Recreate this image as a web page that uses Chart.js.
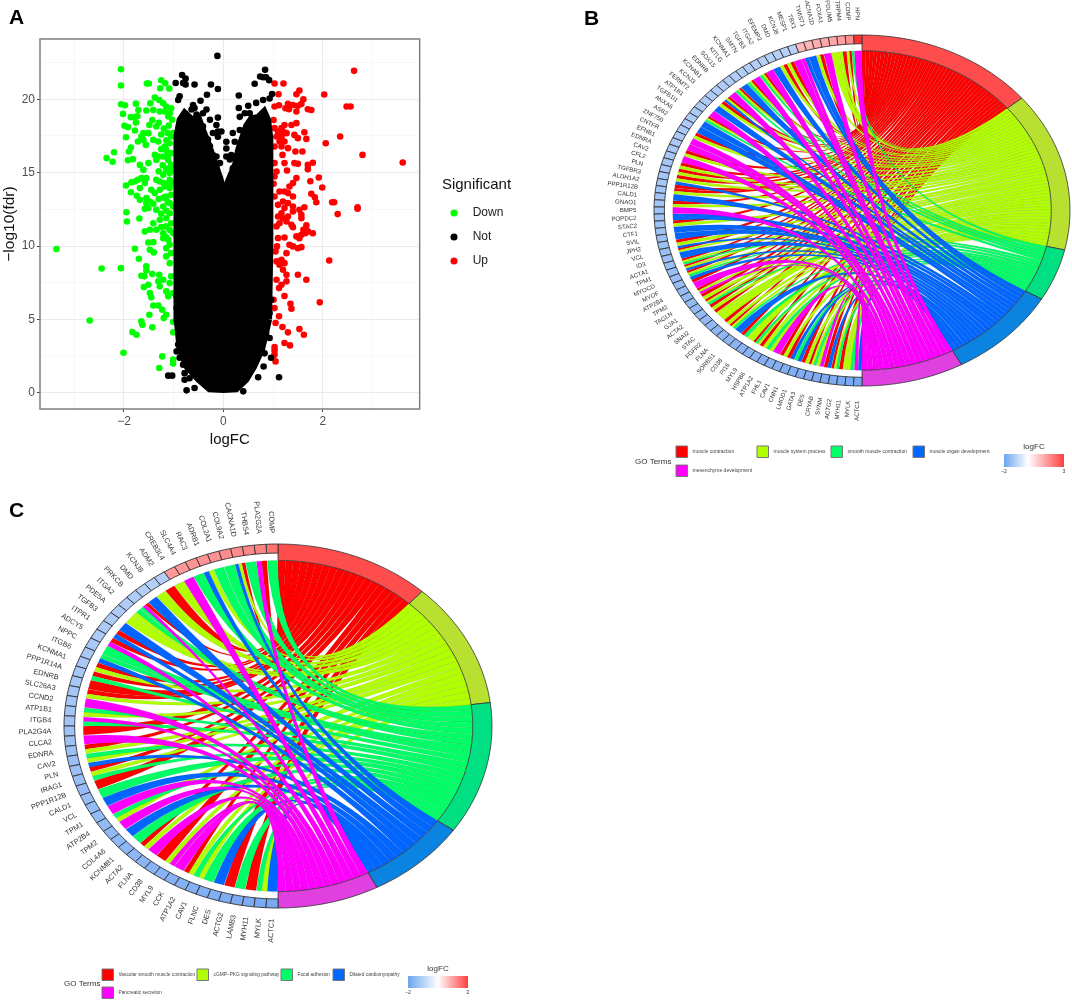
<!DOCTYPE html>
<html>
<head>
<meta charset="utf-8">
<title>Volcano plot and GO chord diagrams</title>
<script src="https://cdn.jsdelivr.net/npm/chart.js@4/dist/chart.umd.js"></script>
<style>
  html, body { margin: 0; padding: 0; background: #fff; overflow: hidden; }
  #page { position: relative; width: 1072px; height: 1002px; }
  canvas { position: absolute; }
  .panel { position: absolute; font: bold 21px "Liberation Sans", Arial, sans-serif; color: #000; }
</style>
</head>
<body>
<div id="page">
  <canvas id="volcano" width="540" height="450" style="left:0;top:0"></canvas>
  <canvas id="chordB" width="532" height="490" style="left:540px;top:0"></canvas>
  <canvas id="chordC" width="540" height="512" style="left:0;top:490px"></canvas>
  <div class="panel" style="left:9px;top:5px">A</div>
  <div class="panel" style="left:584px;top:6px">B</div>
  <div class="panel" style="left:9px;top:498px">C</div>
</div>
<script>
// volcano values as [logFC, -log10(fdr)]
const downPoints = [[-2.06,22.04],[-2.06,20.93],[-1.54,21.07],[-1.5,21.07],[-1.25,21.29],[-1.17,21.09],[-1.27,20.75],[-1.09,20.73],[-1.38,20.11],[-1.29,19.95],[-1.21,19.73],[-1.15,19.5],[-1.47,19.73],[-1.55,19.23],[-1.41,19.27],[-1.28,19.16],[-1.18,19.16],[-1.08,19.05],[-1.05,19.39],[-1.11,18.82],[-2.06,19.66],[-1.98,19.59],[-2.02,19],[-1.76,19.7],[-1.71,19.27],[-1.86,18.78],[-1.78,18.78],[-1.73,18.84],[-1.76,18.41],[-1.99,18.19],[-1.92,18.1],[-1.78,17.87],[-1.49,18.25],[-1.43,18.59],[-1.35,18.14],[-1.51,17.69],[-1.96,17.41],[-1.61,17.69],[-1.61,17.23],[-1.65,17.46],[-1.72,17.12],[-1.56,16.89],[-1.41,17.23],[-1.31,17.12],[-1.18,16.78],[-1.08,17],[-1.05,17.46],[-1.01,17.69],[-1.86,16.71],[-1.9,16.44],[-1.92,15.85],[-1.82,15.92],[-2.2,16.39],[-2.35,15.99],[-2.23,15.74],[-1.68,15.53],[-1.61,15.19],[-1.51,15.65],[-1.38,16.21],[-1.35,15.87],[-1.21,16.1],[-1.15,16.55],[-1.11,15.87],[-1.05,16.33],[-1.05,15.53],[-1.96,14.13],[-1.85,14.35],[-1.78,14.4],[-1.72,14.51],[-1.65,14.63],[-1.55,14.63],[-1.68,13.95],[-1.58,14.29],[-1.86,13.67],[-1.74,13.42],[-1.68,13.15],[-1.55,13.27],[-1.35,14.51],[-1.28,14.4],[-1.21,14.85],[-1.15,15.19],[-1.08,14.97],[-1.01,15.19],[-1.08,14.51],[-1.28,13.83],[-1.45,13.83],[-1.38,13.61],[-1.18,14.06],[-1.08,13.95],[-1.01,14.29],[-1.15,13.38],[-1.05,13.49],[-1.55,12.93],[-1.48,13.04],[-1.41,12.88],[-1.58,12.54],[-1.51,12.59],[-1.35,12.47],[-1.21,12.7],[-1.08,12.93],[-1.01,12.7],[-1.08,12.24],[-1.95,12.31],[-1.94,11.68],[-1.69,11.88],[-1.41,11.56],[-1.28,11.79],[-1.15,11.34],[-1.05,11.56],[-1.58,11],[-1.48,11.11],[-1.35,11.11],[-1.21,10.88],[-1.11,10.43],[-1.01,10.88],[-1.51,10.25],[-1.41,10.27],[-1.21,10.54],[-1.78,9.82],[-3.36,9.8],[-1.48,9.75],[-1.4,9.57],[-1.15,9.86],[-1.15,9.3],[-1.05,9.52],[-1.7,9.14],[-2.45,8.48],[-2.06,8.5],[-1.55,8.62],[-1.55,8.34],[-1.65,7.98],[-1.59,7.94],[-1.43,8.1],[-1.29,8.05],[-1.08,8.84],[-1.05,7.94],[-1.08,7.48],[-1.31,7.6],[-1.21,7.71],[-1.28,7.26],[-1.51,7.37],[-1.6,7.21],[-1.48,6.8],[-1.45,6.51],[-1.15,6.92],[-1.01,6.8],[-1.11,6.58],[-1.41,5.96],[-1.31,5.96],[-1.23,5.67],[-1.15,5.33],[-1.49,5.33],[-1.2,5.1],[-1.01,4.83],[-2.69,4.94],[-1.65,4.88],[-1.63,4.65],[-1.43,4.47],[-1.83,4.15],[-1.75,3.97],[-1.01,4.13],[-2.01,2.74],[-1.23,2.49],[-1.01,2.27],[-1.01,2],[-1.29,1.7],[-1.1,18.2],[-1.03,18.6],[-1.2,18],[-1.12,17.7],[-1.3,18.4],[-1.25,17.6],[-1.15,17.2],[-1.25,16.6],[-1.3,16.1],[-1.12,16.2],[-1.22,15.5],[-1.3,15.1],[-1.1,15.3],[-1.2,14.3],[-1.12,14.2],[-1.3,13.2],[-1.2,13.3],[-1.12,13],[-1.25,12.2],[-1.15,12.4],[-1.15,11.9],[-1.25,11.3],[-1.08,11.1],[-1.15,10.6],[-1.08,10.1]];
const upPoints = [[2.63,21.93],[1.03,21.07],[1.21,21.07],[1.11,20.34],[1.53,20.59],[1.47,20.34],[2.03,20.32],[1.61,20],[2.48,19.5],[2.56,19.5],[1.03,19.5],[1.12,19.59],[1.3,19.68],[1.4,19.61],[1.5,19.55],[1.57,19.68],[1.25,19.39],[1.32,19.32],[1.47,19.16],[1.7,19.32],[1.77,19.27],[1.01,18.59],[1.37,18.25],[1.47,18.37],[1.23,18.25],[1.17,18.03],[1.03,18.03],[1.1,17.8],[1.2,17.8],[1.27,17.69],[1.17,17.46],[1.07,17.46],[1.43,17.57],[1.5,17.35],[1.63,17.75],[1.67,17.3],[2.35,17.46],[2.06,17],[1.13,17.12],[1.23,17.12],[1.03,16.78],[1.17,16.78],[1.3,16.67],[1.45,16.44],[1.59,16.44],[2.8,16.21],[1.19,16.21],[1.03,15.65],[1.23,15.65],[1.43,15.65],[1.5,15.6],[1.7,15.53],[1.8,15.67],[1.7,15.24],[3.61,15.69],[1.28,15.15],[1.07,15.08],[1.03,14.74],[1.47,14.63],[1.92,14.67],[1.75,14.42],[1.4,14.29],[1.33,14.06],[1.01,14.24],[1.99,13.99],[1.13,13.72],[1.23,13.72],[1.3,13.61],[1.03,13.38],[1.4,13.38],[1.77,13.56],[1.84,13.33],[1.87,12.99],[2.19,12.99],[2.23,12.99],[1.2,13.04],[1.3,12.93],[1.1,12.81],[1.4,12.7],[1.23,12.59],[1.17,12.24],[1.63,12.65],[1.53,12.47],[2.7,12.65],[2.7,12.54],[2.3,12.18],[1.57,12.13],[1.4,12.36],[1.3,12.02],[1.2,11.9],[1.1,12.02],[1.57,11.9],[1.13,11.56],[1.27,11.68],[1.37,11.45],[1.4,11.29],[1.07,11.34],[1.67,11.41],[1.61,11.11],[1.7,11],[1.8,10.88],[1.65,10.88],[1.57,10.77],[1.47,10.66],[1.23,10.59],[1.1,10.54],[1.53,10.54],[1.33,10.09],[1.4,9.98],[1.5,9.86],[1.57,9.93],[1.08,9.98],[1.05,9.64],[1.27,9.52],[2.13,9.02],[1.17,9.07],[1.07,8.96],[1.23,8.84],[1.13,8.73],[1.2,8.39],[1.5,8.05],[1.27,8.05],[1.67,7.71],[1.07,7.71],[1.27,7.6],[1.17,7.37],[1.12,7.14],[1.23,6.6],[1.01,6.35],[1.94,6.17],[1.35,6.08],[1.37,5.74],[1.03,5.78],[1.12,5.22],[1.05,4.76],[1.19,4.49],[1.53,4.35],[1.3,4.13],[1.62,3.97],[1.23,3.4],[1.34,3.24],[1.03,3.13],[1.03,2.9],[1.03,2.61],[1.05,2.15]];
const notPoints = [[-0.12,22.95],[0.84,22],[-0.83,21.65],[-0.76,21.4],[-0.96,21.1],[-0.81,21.1],[-0.76,21],[-0.58,21],[-0.25,21],[-0.11,20.7],[0.63,21.05],[0.74,21.55],[0.8,21.5],[0.92,21.3],[0.86,21.5],[-0.88,20.2],[-0.91,19.95],[-0.33,20.3],[-0.46,19.9],[0.31,20.25],[0.31,19.4],[0.98,20.35],[0.93,20.05],[0.8,19.95],[0.66,19.75],[0.5,19.55],[-0.61,19.6],[-0.58,19.4],[-0.64,19.3],[-0.34,19.3],[-0.41,19.05],[-0.54,18.95],[-0.11,18.75],[-0.27,18.6],[-0.14,18.25],[-0.11,17.8],[-0.04,17.8],[-0.41,18.15],[-0.21,17.7],[0.06,17.1],[0.23,17.1],[0.19,17.7],[0.33,17.9],[0.33,18.8],[0.43,19.05],[0.53,19.05],[-0.11,17.45],[-0.31,17.25],[-0.27,16.8],[0.06,16.65],[0.16,16.2],[0.23,16.1],[0.06,16.1],[0.13,15.9],[0.19,15.3],[0.19,14.75],[-0.07,15.65],[-0.14,16.1],[-0.21,16.2],[-1.11,1.18],[-1.03,1.18],[1.12,1.07],[-0.74,0.18],[-0.58,0.34],[-0.78,0.9],[-0.68,1],[-0.78,1.35],[0.7,1.07],[0.4,0.11],[0.81,1.8],[0.96,2.4],[0.83,2.7],[0.93,3.74],[0.86,4.08],[0.83,5],[0.93,5.44],[0.96,6.35],[0.86,7.48],[-0.91,3.3],[-0.94,2.83],[-0.88,4.4],[-0.94,5.8],[-0.84,5.2],[-0.94,6.6],[-0.88,2.4],[-0.81,1.93]];
// outline of the solid black mass of "Not" points
const notUpperEdge = [[-0.94,5],[-0.94,10],[-0.95,14],[-0.94,17.5],[-0.88,18.6],[-0.78,19.1],[-0.62,18.6],[-0.5,18.8],[-0.42,18],[-0.3,17],[-0.2,16],[-0.12,15.2],[-0.06,14.6],[0.03,13.4],[0.08,14.3],[0.14,14.8],[0.24,15.6],[0.3,16.6],[0.38,17.4],[0.46,18.2],[0.56,18.7],[0.7,18.8],[0.82,19.2],[0.9,18.6],[0.94,17.5],[0.95,14],[0.94,10],[0.92,5]];
const notLowerEdge = [[-0.94,5],[-0.88,3],[-0.74,1.8],[-0.5,0.9],[-0.28,0.25],[0,0.2],[0.26,0.25],[0.46,0.9],[0.62,1.8],[0.78,3],[0.92,5]];

const xTickLabels = { '-2': '\u22122', '0': '0', '2': '2' };
const yTickLabels = [0, 5, 10, 15, 20];

// chord panel B
const bTerms = ['muscle contraction', 'muscle system process', 'smooth muscle contraction', 'muscle organ development', 'mesenchyme development'];
const bTermSizes = [58, 61, 20, 36, 33];
const bGenes = ['HPN','COMP','TRPM4','PDLIM5','FOXA1','CACNA1D','TWIST1','TBX1','MESP1','KCNJ8','DMD','EFEMP2','ITGA2','TGFB3','SMTN','KCNMA1','KITLG','SOX15','EDNRB','KCNAB1','KCNJ3','FERMT2','ATP1B1','TGFB1I1','ANXA6','ASB2','ZNF750','CNTFR','EFNB1','EDNRA','CAV2','CFL2','PLN','TGFBR3','ALDH1A2','PPP1R12B','CALD1','GNAO1','BMP5','POPDC2','STAC2','CTF1','SVIL','JPH2','VCL','ID3','ACTA1','TPM1','MYOCD','MYOF','ATP2B4','TPM2','TAGLN','GJA1','ACTA2','SNAI2','STAC','FGFR2','FLNA','SORBS1','CD38','PI16','MYL9','HSPB6','ATP1A2','FHL1','CAV1','CNN1','LMOD1','GATA3','DES','CRYAB','SYNM','ACTG2','MYH11','MYLK','ACTC1'];
const bMembers = ['e','cab','ab','b','e','ab','d','de','e','ab','ab','d','e','abc','e','abc','d','abc','e','abd','ab','d','e','abc','d','d','ab','e','e','ab','e','ab','ab','ab','da','ab','d','ab','e','d','ab','d','d','ab','dab','d','abc','abd','abc','da','e','abe','ab','abc','ab','ab','b','ab','abc','d','ac','b','acb','ab','cb','e','ab','ad','cd','ab','abc','be','ad','abc','ab','bc','ed'];
const bLogFC = [3.0,1.6,1.4,1.3,1.25,1.2,1.1,1.05,-0.8,-0.8,-0.82,-0.82,-0.84,-0.84,-0.85,-0.86,-0.86,-0.87,-0.88,-0.88,-0.9,-0.9,-0.9,-0.92,-0.92,-0.93,-0.94,-0.95,-0.95,-0.96,-0.97,-0.98,-0.98,-1.0,-1.0,-1.0,-1.02,-1.02,-1.04,-1.05,-1.05,-1.06,-1.08,-1.08,-1.1,-1.1,-1.12,-1.12,-1.14,-1.15,-1.16,-1.18,-1.18,-1.2,-1.2,-1.22,-1.24,-1.25,-1.26,-1.28,-1.28,-1.3,-1.3,-1.32,-1.34,-1.35,-1.36,-1.38,-1.4,-1.4,-1.42,-1.44,-1.45,-1.46,-1.48,-1.5,-1.52];

// chord panel C
const cTerms = ['Vascular smooth muscle contraction', 'cGMP\u2212PKG signaling pathway', 'Focal adhesion', 'Dilated cardiomyopathy', 'Pancreatic secretion'];
const cTermSizes = [20, 19, 20, 13, 13];
const cGenes = ['COMP','PLA2G2A','THBS4','CACNA1D','COL9A2','COL2A1','ADRB1','RAC3','SLC4A4','CREB3L4','ADM2','KCNJ8','DMD','PRKCB','ITGA2','PDE5A','TGFB3','ITPR1','ADCY5','NPPC','ITGB6','KCNMA1','PPP1R14A','EDNRB','SLC26A3','CCND2','ATP1B1','ITGB4','PLA2G4A','CLCA2','EDNRA','CAV2','PLN','IRAG1','PPP1R12B','CALD1','VCL','TPM1','ATP2B4','TPM2','COL4A6','KCNMB1','ACTA2','FLNA','CD38','MYL9','CCK','ATP1A2','CAV1','FLNC','DES','ACTG2','LAMB3','MYH11','MYLK','ACTC1'];
const cMembers = ['c','ae','c','abd','c','c','bd','c','e','b','a','b','d','aec','cb','b','d','ad','ae','c','cd','ab','ac','a','ab','e','cb','ec','a','e','ab','cb','da','bc','a','c','d','e','cb','e','d','c','ab','e','a','be','e','ab','cb','c','d','a','c','a','cb','d'];
const cLogFC = [1.35,1.2,1.15,1.1,1.1,1.05,1.05,1.05,1.0,1.0,-0.85,-0.85,-0.86,-0.88,-0.88,-0.9,-0.9,-0.92,-0.93,-0.94,-0.95,-0.96,-0.97,-0.98,-1.0,-1.0,-1.02,-1.03,-1.05,-1.06,-1.08,-1.1,-1.1,-1.12,-1.14,-1.15,-1.16,-1.18,-1.2,-1.22,-1.24,-1.25,-1.26,-1.28,-1.3,-1.32,-1.34,-1.35,-1.36,-1.38,-1.4,-1.42,-1.44,-1.45,-1.48,-1.5];

const termLetters = 'abcde';
const ribbonColors = ['#ff0000', '#b2ff00', '#00ff66', '#0066ff', '#ff00ff'];
const ringColors = ['#ff4d4d', '#b8e030', '#00e082', '#0a84e0', '#e040e0'];
const FONT = '"Liberation Sans", Arial, sans-serif';
const toXY = (p) => ({ x: p[0], y: p[1] });

// ---- panel A ----
const framePlugin = {
  id: 'frame',
  // put the legend box where the original has it, the frame is already laid out by now
  afterLayout(chart) {
    Object.assign(chart.legend, { left: 436, right: 517, width: 81, top: 177, bottom: 290, height: 113 });
  },
  afterDatasetsDraw(chart) {
    const { ctx, chartArea: a } = chart;
    ctx.save();
    ctx.strokeStyle = '#7f7f7f';
    ctx.lineWidth = 1.5;
    ctx.strokeRect(a.left, a.top, a.right - a.left, a.bottom - a.top);
    ctx.restore();
  }
};

new Chart(document.getElementById('volcano'), {
  type: 'scatter',
  plugins: [framePlugin],
  data: {
    datasets: [
      { label: 'Down', data: downPoints.map(toXY), backgroundColor: '#00ff00', borderColor: '#00ff00', pointRadius: 3.3, pointBorderWidth: 0, order: 4 },
      { label: 'Not', data: notPoints.map(toXY), backgroundColor: '#000', borderColor: '#000', pointRadius: 3.3, pointBorderWidth: 0, order: 1 },
      { label: 'Up', data: upPoints.map(toXY), backgroundColor: '#ff0000', borderColor: '#ff0000', pointRadius: 3.3, pointBorderWidth: 0, order: 4 },
      { label: 'mass', type: 'line', data: notUpperEdge.map(toXY), borderColor: '#000', borderWidth: 6, backgroundColor: '#000', pointRadius: 0, fill: '+1', tension: 0, order: 2 },
      { label: 'massLow', type: 'line', data: notLowerEdge.map(toXY), borderColor: '#000', borderWidth: 6, pointRadius: 0, fill: false, tension: 0, order: 3 }
    ]
  },
  options: {
    responsive: false,
    animation: false,
    layout: { padding: { top: 39, right: 21, left: 0, bottom: 0 } },
    scales: {
      x: {
        type: 'linear', min: -3.69, max: 3.95,
        afterFit: (s) => { s.height = 41; },
        border: { display: false },
        grid: {
          color: (c) => c.tick && c.tick.value % 2 === 0 ? '#ebebeb' : '#f2f2f2',
          lineWidth: (c) => c.tick && c.tick.value % 2 === 0 ? 1 : 0.6,
          tickColor: (c) => c.tick && c.tick.value % 2 === 0 ? '#444' : 'rgba(0,0,0,0)',
          tickLength: 3
        },
        ticks: {
          stepSize: 1, includeBounds: false, autoSkip: false, maxRotation: 0, padding: 2,
          color: '#4d4d4d', font: { size: 12, family: FONT },
          callback: (v) => xTickLabels[v] || ''
        },
        title: { display: true, text: 'logFC', color: '#111', font: { size: 15, family: FONT }, padding: { top: 0, bottom: 1 } }
      },
      y: {
        type: 'linear', min: -1.09, max: 24.1,
        afterFit: (s) => { s.width = 40; },
        border: { display: false },
        grid: {
          color: (c) => c.tick && c.tick.value % 5 === 0 ? '#ebebeb' : '#f2f2f2',
          lineWidth: (c) => c.tick && c.tick.value % 5 === 0 ? 1 : 0.6,
          tickColor: (c) => c.tick && c.tick.value % 5 === 0 ? '#444' : 'rgba(0,0,0,0)',
          tickLength: 3
        },
        ticks: {
          stepSize: 2.5, includeBounds: false, autoSkip: false, padding: 2,
          color: '#4d4d4d', font: { size: 12, family: FONT },
          callback: (v) => yTickLabels.includes(v) ? String(v) : ''
        },
        title: { display: true, text: '\u2212log10(fdr)', color: '#111', font: { size: 15.5, family: FONT }, padding: { top: 0, bottom: 0 } }
      },
      // empty axis, keeps the gap between frame and legend
      gap: {
        type: 'linear', position: 'right', display: true,
        afterFit: (s) => { s.width = 22; },
        border: { display: false }, grid: { display: false }, ticks: { display: false }
      }
    },
    plugins: {
      filler: { drawTime: 'beforeDatasetDraw' },
      tooltip: { enabled: false },
      legend: {
        position: 'right',
        align: 'start',
        title: { display: true, text: 'Significant', color: '#111', position: 'center', font: { size: 15, family: FONT }, padding: { bottom: 0 } },
        labels: {
          usePointStyle: true, pointStyle: 'circle', boxWidth: 25, boxHeight: 5, padding: 12,
          color: '#222', font: { size: 12, family: FONT },
          // two no-break spaces widen the gap between dot and text
          generateLabels: (chart) => Chart.defaults.plugins.legend.labels.generateLabels(chart)
            .map((item) => Object.assign(item, { text: '\u00a0\u00a0' + item.text })),
          filter: (item) => item.datasetIndex < 3,
          sort: (a, b) => a.datasetIndex - b.datasetIndex
        }
      }
    }
  }
});

// ---- panels B and C ----
function mix(hex, t) {
  const n = parseInt(hex.slice(1), 16);
  const c = [n >> 16 & 255, n >> 8 & 255, n & 255].map((v) => Math.round(255 + (v - 255) * t));
  return `rgb(${c[0]},${c[1]},${c[2]})`;
}

function chordPlugin(cfg) {
  return {
    id: 'chord',
    afterDraw(chart) {
      const { ctx, scales: { x, y } } = chart;
      const pt = (r, deg) => {
        const t = deg * Math.PI / 180;
        return [x.getPixelForValue(r * Math.sin(t)), y.getPixelForValue(r * Math.cos(t))];
      };
      const arcPath = (r, a, b, first) => {
        const n = Math.max(2, Math.ceil(Math.abs(b - a) / 2));
        for (let i = 0; i <= n; i++) {
          const p = pt(r, a + (b - a) * i / n);
          if (i === 0 && first) ctx.moveTo(p[0], p[1]); else ctx.lineTo(p[0], p[1]);
        }
      };
      const ringCell = (r0, r1, a, b, fill, stroke, lw) => {
        ctx.beginPath();
        arcPath(r1, a, b, true);
        arcPath(r0, b, a, false);
        ctx.closePath();
        ctx.fillStyle = fill;
        ctx.fill();
        ctx.lineWidth = lw;
        ctx.strokeStyle = stroke;
        ctx.stroke();
      };

      const R = 0.91;
      const geneStep = 180 / cfg.genes.length;
      const total = cfg.termSizes.reduce((s, v) => s + v, 0);
      const termStart = [];
      let acc = 0;
      cfg.termSizes.forEach((v) => { termStart.push(acc); acc += v / total * 180; });
      termStart.push(180);

      // hand out the slots of each term from top to bottom gene order
      const counts = [0, 0, 0, 0, 0];
      cfg.members.forEach((m) => { for (const ch of m) counts[termLetters.indexOf(ch)]++; });
      const used = [0, 0, 0, 0, 0];
      const ribbons = [[], [], [], [], []];
      cfg.members.forEach((m, i) => {
        const g0 = -i * geneStep - geneStep * 0.02;
        const w = geneStep * 0.96 / m.length;
        [...m].forEach((ch, k) => {
          const t = termLetters.indexOf(ch);
          const sw = (termStart[t + 1] - termStart[t]) / counts[t];
          const b0 = termStart[t] + used[t] * sw;
          used[t]++;
          ribbons[t].push([g0 - k * w, g0 - (k + 1) * w, b0, b0 + sw]);
        });
      });

      ctx.save();
      const c0 = pt(0, 0);
      ctx.lineJoin = 'round';
      ribbons.forEach((list, t) => {
        list.forEach((rb) => {
          const p1 = pt(R, rb[2]), q2 = pt(R, rb[1]);
          ctx.beginPath();
          arcPath(R, rb[1], rb[0], true);
          ctx.quadraticCurveTo(c0[0], c0[1], p1[0], p1[1]);
          arcPath(R, rb[2], rb[3], false);
          ctx.quadraticCurveTo(c0[0], c0[1], q2[0], q2[1]);
          ctx.closePath();
          ctx.fillStyle = ribbonColors[t];
          ctx.fill();
          ctx.lineWidth = 0.4;
          ctx.strokeStyle = 'rgba(0,0,0,0.18)';
          ctx.stroke();
        });
      });

      // term ring
      cfg.termSizes.forEach((v, t) => {
        ringCell(R, 1, termStart[t], termStart[t + 1], ringColors[t], '#333', 0.8);
      });

      // gene cells and labels
      cfg.genes.forEach((g, i) => {
        const v = cfg.logFC[i];
        const col = v >= 0 ? mix('#ff3030', v / cfg.scaleMax) : mix('#4a8cf0', v / cfg.scaleMin);
        ringCell(0.95, 1, -i * geneStep, -(i + 1) * geneStep, col, '#333', 0.9);
      });
      ctx.fillStyle = '#333';
      ctx.font = `${cfg.labelSize}px ${FONT}`;
      ctx.textAlign = 'right';
      ctx.textBaseline = 'middle';
      cfg.genes.forEach((g, i) => {
        const deg = -(i + 0.5) * geneStep;
        const p = pt(cfg.labelR, deg);
        ctx.save();
        ctx.translate(p[0], p[1]);
        ctx.rotate((90 + deg) * Math.PI / 180);
        ctx.fillText(g, 0, 0);
        ctx.restore();
      });

      // legend
      const L = cfg.legend;
      ctx.textAlign = 'left';
      ctx.fillStyle = '#333';
      ctx.font = `8px ${FONT}`;
      ctx.fillText('GO Terms', L.titleX, L.titleY);
      cfg.terms.forEach((name, t) => {
        const s = L.items[t];
        ctx.fillStyle = ribbonColors[t];
        ctx.fillRect(s[0], s[1], 11.5, 11.5);
        ctx.strokeStyle = '#777';
        ctx.lineWidth = 1;
        ctx.strokeRect(s[0], s[1], 11.5, 11.5);
        ctx.fillStyle = '#444';
        ctx.font = `${L.textSize}px ${FONT}`;
        ctx.fillText(name, s[0] + 16.5, s[1] + 6);
      });

      // logFC colour bar
      const B = L.bar;
      const grad = ctx.createLinearGradient(B.x, 0, B.x + B.w, 0);
      const zero = -cfg.scaleMin / (cfg.scaleMax - cfg.scaleMin);
      grad.addColorStop(0, '#6aa5f0');
      grad.addColorStop(zero, '#ffffff');
      grad.addColorStop(1, '#ff4040');
      ctx.fillStyle = grad;
      ctx.fillRect(B.x, B.y, B.w, B.h);
      ctx.fillStyle = '#333';
      ctx.textAlign = 'center';
      ctx.font = `8px ${FONT}`;
      ctx.fillText('logFC', B.x + B.w / 2, B.y - 7);
      ctx.font = `5px ${FONT}`;
      ctx.fillText(String(cfg.scaleMin).replace('-', '\u2212'), B.x, B.y + B.h + 5);
      ctx.fillText(String(cfg.scaleMax), B.x + B.w, B.y + B.h + 5);
      ctx.restore();
    }
  };
}

function chordChart(id, cfg) {
  new Chart(document.getElementById(id), {
    type: 'scatter',
    plugins: [chordPlugin(cfg)],
    data: { datasets: [] },
    options: {
      responsive: false,
      animation: false,
      layout: { padding: cfg.padding },
      scales: {
        x: { type: 'linear', min: -1, max: 1, display: false },
        y: { type: 'linear', min: -1, max: 1, display: false }
      },
      plugins: { legend: { display: false }, tooltip: { enabled: false } }
    }
  });
}

chordChart('chordB', {
  genes: bGenes, members: bMembers, logFC: bLogFC, terms: bTerms, termSizes: bTermSizes,
  scaleMin: -2, scaleMax: 3, labelSize: 6.1, labelR: 1.085,
  padding: { left: 114, right: 2, top: 35, bottom: 104 },
  legend: {
    titleX: 95, titleY: 462, textSize: 5,
    items: [[136, 446], [217, 446], [291, 446], [373, 446], [136, 465]],
    bar: { x: 464, y: 454, w: 60, h: 13 }
  }
});

chordChart('chordC', {
  genes: cGenes, members: cMembers, logFC: cLogFC, terms: cTerms, termSizes: cTermSizes,
  scaleMin: -2, scaleMax: 2, labelSize: 7.3, labelR: 1.06,
  padding: { left: 64, right: 48, top: 54, bottom: 94 },
  legend: {
    titleX: 64, titleY: 494, textSize: 4.8,
    items: [[102, 479], [197, 479], [281, 479], [333, 479], [102, 497]],
    bar: { x: 408, y: 486, w: 60, h: 12 }
  }
});
</script>
</body>
</html>
